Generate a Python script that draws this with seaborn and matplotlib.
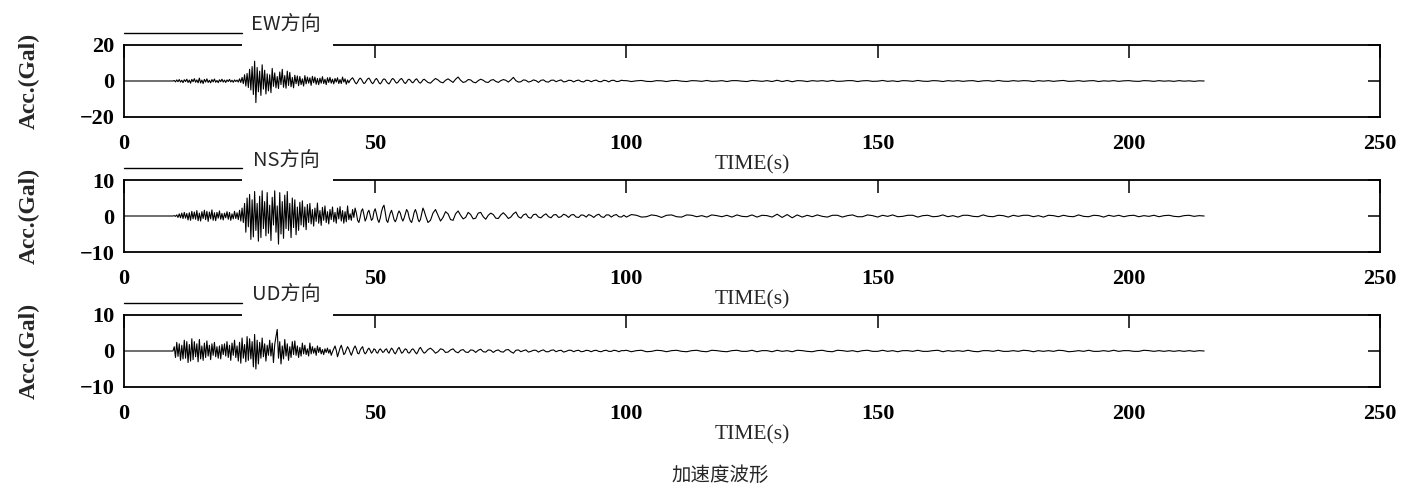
import numpy as np
import pandas as pd
import matplotlib
matplotlib.use("Agg")
import matplotlib.pyplot as plt
import seaborn as sns
from matplotlib.patches import Rectangle
from matplotlib.lines import Line2D

# ---------------- data ----------------
components = ["EW方向", "NS方向", "UD方向"]
y_limits = [20, 10, 10]
x_ticks = [0, 50, 100, 150, 200, 250]

# quiet part before onset (t = 0 ... 9.75 s)
quiet = [0.0, 0.0]

# EW: 10-60 s every 0.25 s
EW_A = [0.3,-0.5,0.6,-0.4, 0.8,-0.6,0.4,-0.9, 0.7,-0.3,1.0,-0.8, 0.5,-1.2,0.9,-0.4,
        1.3,-0.7,0.6,-1.0, 1.6,-1.1,0.5,-1.4, 0.9,-0.6,1.2,-0.8, 0.4,-1.0,0.8,-0.5,
        1.1,-0.7,0.3,-0.9, 0.7,-0.4,1.0,-0.6, 0.5,-0.8,0.6,-0.3, 0.9,-0.5,0.4,-0.7,
        0.6,-0.3,0.5,-0.6, 1.2,-0.8,2.0,-1.5, 3.5,-2.8,4.2,-3.6, 6.5,-5.0,8.0,-7.5,
        11.0,-12.0,7.5,-6.0, 5.5,-8.0,9.0,-4.5, 6.0,-7.2,4.0,-5.5, 3.5,-6.5,7.0,-3.0,
        4.5,-3.8,2.5,-4.2, 5.0,-2.0,6.5,-3.5, 3.0,-4.0,5.5,-2.5, 4.8,-3.2,2.0,-3.8,
        3.2,-1.5,2.8,-2.6, 2.5,-2.0,1.2,-2.8, 3.0,-1.6,2.2,-1.2, 1.8,-2.4,2.6,-1.0,
        2.2,-1.8,1.4,-2.0, 1.6,-1.2,2.4,-1.4, 1.0,-2.0,1.8,-0.8, 2.0,-1.2,1.0,-1.6,
        1.4,-0.6,1.8,-1.4, 0.8,-1.4,2.2,-0.6, 1.2,-1.8,0.6,-1.0, 0.4,1.2,1.8,0.6,
        -0.8,-1.6,-0.6,0.8, 1.6,1.0,-0.4,-1.4, -1.0,0.2,1.2,1.6, 0.6,-0.8,-1.5,-0.6,
        0.8,1.4,0.4,-1.0, -1.6,-0.8,0.6,1.2, 0.8,-0.4,-1.2,-1.6, -0.6,0.8,1.4,0.8,
        -0.4,-1.2,-0.8,0.2, 1.0,1.4,0.4,-0.8, -1.4,-0.6,0.6,1.0, 0.4,-0.6,-1.0,-0.2,
        0.8,1.2,0.2,-0.8, -1.2,-0.4,0.6,1.0]
# EW: 60-100 s every 0.5 s
EW_B = [0.4,-0.8,-1.2,0.2,1.4,0.6,-0.6,-1.0,0.4,1.2,
        0.2,-0.8,1.0,2.2,0.4,-0.8,-0.4,0.8,0.6,-0.6,
        -1.0,0.2,1.0,0.4,-0.6,-0.8,0.4,0.8,-0.2,-0.8,
        0.2,0.8,0.4,-0.6,0.6,2.0,0.2,-0.6,-0.4,0.6,
        0.4,-0.6,-0.2,0.6,0.2,-0.8,0.4,0.6,-0.4,-0.6,
        0.4,0.5,-0.4,0.2,0.6,-0.5,-0.3,0.4,0.3,-0.5,
        0.2,0.5,-0.3,-0.5,0.4,0.3,-0.4,0.2,0.5,-0.3,
        -0.4,0.4,0.2,-0.5,0.3,0.4,-0.3,-0.2,0.4,0.2]
# EW: 100-215 s every 1 s
EW_C = [0.2,-0.3,0.1,0.3,-0.2,-0.3,0.2,0.1,-0.3,0.2,
        0.3,-0.1,-0.3,0.2,0.1,-0.2,0.3,-0.2,-0.1,0.2,
        -0.3,0.2,0.2,-0.1,-0.3,0.3,0.1,-0.2,0.2,-0.3,
        0.4,-0.3,0.3,-0.4,0.2,0.1,-0.3,0.2,-0.1,0.2,
        -0.2,0.3,-0.2,-0.1,0.2,0.2,-0.3,0.1,0.2,-0.2,
        -0.1,0.3,-0.2,0.1,-0.3,0.2,0.1,-0.2,0.3,-0.1,
        -0.2,0.2,0.1,-0.3,0.2,-0.1,0.2,-0.2,0.1,0.2,
        -0.3,0.1,0.2,-0.2,0.3,-0.1,-0.2,0.2,-0.1,0.2,
        0.1,-0.3,0.2,-0.1,0.2,-0.2,0.1,0.3,-0.2,-0.1,
        0.2,-0.2,0.1,0.2,-0.3,0.1,-0.1,0.2,-0.2,0.1,
        0.2,-0.1,-0.2,0.2,0.1,-0.2,0.2,-0.1,0.1,-0.2,
        0.2,-0.1,0.1,-0.2,0.1,0.0]

NS_A = [0.1,-0.1,0.3,-0.4, 0.6,-0.5,0.8,-0.7, 1.0,-0.6,0.7,-1.1, 0.9,-1.2,1.3,-0.8,
        1.1,-0.9,1.5,-1.3, 0.8,-1.4,1.2,-0.7, 1.6,-1.0,1.3,-1.5, 1.1,-0.8,1.7,-1.2,
        0.9,-1.3,1.0,-0.6, 1.4,-0.9,0.7,-1.1, 0.8,-0.5,1.2,-0.9, 1.0,-1.2,0.6,-0.8,
        1.3,-0.7,0.9,-1.0, 1.6,-1.4,2.2,-1.8, 3.5,-4.5,5.0,-3.0, 6.0,-6.5,4.5,-5.8,
        6.8,-4.0,3.5,-7.0, 5.5,-6.0,7.0,-3.5, 4.0,-5.5,6.5,-4.8, 3.0,-6.8,5.2,-2.5,
        7.0,-4.5,2.8,-7.8, 6.5,-5.0,4.0,-6.2, 5.8,-3.5,6.8,-4.0, 3.5,-6.0,5.0,-3.2,
        4.5,-5.2,2.5,-4.0, 3.8,-2.5,4.2,-3.0, 2.5,-3.8,3.2,-1.8, 3.5,-2.2,1.8,-2.8,
        2.2,-1.5,3.6,-2.0, 1.5,-2.6,2.4,-1.2, 2.8,-1.8,1.2,-2.2, 1.8,-1.0,2.5,-1.6,
        1.0,-2.0,2.2,-0.8, 2.6,-1.4,1.5,-2.0, 1.2,-1.6,2.8,-1.0, 0.6,-1.2,1.8,-0.4,
        2.2,0.8,-1.2,-1.8, -0.4,1.4,2.0,0.4, -1.4,-0.6,1.0,1.6, 0.2,-1.2,-0.8,1.2,
        2.0,0.6,-1.0,-1.8, -0.6,1.2,2.4,3.0, 1.0,-1.2,-1.8,-0.4, 0.8,1.6,0.4,-1.0,
        -1.6,-0.8,0.6,1.4, 0.8,-0.6,-1.4,-0.6, 0.6,1.8,1.2,-0.4, -1.4,-1.8,-0.6,1.0,
        1.8,0.8,-0.8,-1.6, -1.0,0.6,2.2,1.4]
NS_B = [0.2,-1.8,-1.2,0.8,1.8,0.2,-1.4,-0.4,1.2,0.6,
        -1.0,-1.2,0.6,1.4,0.2,-0.8,-0.4,1.0,0.4,-0.8,
        -0.6,0.8,1.0,-0.2,-0.9,0.2,0.8,0.4,-0.6,-0.7,
        0.3,0.9,0.2,-0.7,-0.3,0.6,1.1,-0.2,-0.6,0.3,
        0.6,-0.4,-0.6,0.4,0.5,-0.3,-0.5,0.2,0.6,-0.2,
        -0.5,0.3,0.4,-0.4,-0.2,0.5,0.2,-0.4,0.3,0.4,
        -0.3,-0.4,0.3,0.2,-0.3,0.4,0.1,-0.4,0.2,0.5,
        -0.2,-0.4,0.3,0.3,-0.3,0.2,0.4,-0.2,-0.3,0.2]
NS_C = [-0.3,0.4,0.2,-0.3,-0.2,0.3,0.1,-0.4,0.2,0.3,
        -0.2,-0.3,0.3,0.2,-0.2,0.1,-0.3,0.3,0.1,-0.2,
        0.2,-0.3,0.3,-0.1,-0.2,0.3,-0.3,0.2,0.1,-0.3,
        0.5,-0.4,0.4,-0.5,0.3,-0.3,0.2,-0.2,0.3,-0.1,
        -0.3,0.2,0.2,-0.3,0.1,0.3,-0.2,-0.2,0.3,0.1,
        -0.3,0.2,-0.1,0.3,-0.2,-0.1,0.2,0.2,-0.3,0.1,
        0.2,-0.2,-0.1,0.3,-0.2,0.1,-0.3,0.2,0.2,-0.1,
        -0.2,0.3,-0.1,-0.2,0.2,0.1,-0.3,0.2,-0.1,0.2,
        0.2,-0.2,0.1,-0.3,0.2,0.1,-0.2,0.2,-0.1,-0.2,
        0.3,-0.1,-0.2,0.2,0.1,-0.3,0.2,-0.1,0.2,-0.2,
        0.1,0.2,-0.2,0.1,-0.1,0.2,-0.2,0.1,0.2,-0.1,
        -0.2,0.1,0.2,-0.1,0.1,0.0]

UD_A = [1.2,-1.8,2.4,-1.5, 2.0,-2.6,1.6,-2.2, 3.0,-2.0,2.6,-3.2, 1.8,-2.8,3.4,-2.4,
        2.6,-1.6,2.0,-3.0, 3.2,-2.2,1.4,-2.6, 2.2,-1.8,2.8,-1.4, 1.6,-2.4,2.0,-1.2,
        2.4,-1.6,1.2,-2.0, 1.4,-2.2,1.8,-1.0, 2.0,-1.4,2.6,-1.8, 1.6,-2.6,2.2,-1.2,
        3.0,-1.8,1.4,-2.8, 2.4,-3.4,3.6,-2.0, 1.8,-3.0,4.0,-2.6, 3.4,-2.2,2.6,-4.4,
        4.6,-5.0,3.0,-3.6, 2.4,-2.0,3.6,-1.6, 2.0,-2.8,1.6,-1.2, 3.0,-1.4,2.2,-3.2,
        1.8,4.0,6.0,-2.0, 2.6,-3.6,1.4,-2.2, 3.2,-1.4,2.0,-2.6, 1.2,-1.8,2.6,-1.0,
        2.8,-1.2,1.4,-1.8, 1.0,-1.4,2.2,-0.8, 1.6,-1.0,0.6,-1.4, 2.2,-0.8,1.2,-0.6,
        0.8,-1.2,1.4,-0.4, 1.0,-0.8,0.4,-1.0, 0.6,-0.4,0.8,-0.6, 0.4,-1.2,-0.2,0.6,
        1.4,0.2,-1.6,-0.4, 0.8,1.6,0.4,-1.0, -0.6,0.4,1.2,0.6, -0.4,-1.2,-0.2,0.8,
        1.4,0.6,-0.6,-0.8, 0.2,0.8,1.2,-0.2, -0.8,-0.4,0.4,0.8, 0.2,-0.6,-0.2,0.6,
        0.4,-0.4,-0.6,0.2, 0.6,0.2,-0.4,-0.2, 0.4,0.6,-0.2,-0.6, 0.2,0.8,0.4,-0.4,
        -0.8,-0.2,0.6,1.0, 0.2,-0.6,-0.4,0.2, 0.6,0.4,-0.4,-0.6, -0.2,0.4,0.6,0.2,
        -0.4,-0.8,-0.2,0.6, 1.0,0.4,-0.2,-0.6]
UD_B = [-0.4,0.4,0.8,0.2,-0.6,-0.2,0.6,0.4,-0.4,-0.3,
        0.3,0.6,-0.2,-0.5,0.2,0.4,-0.3,-0.4,0.3,0.2,
        -0.4,0.2,0.5,-0.2,-0.3,0.3,0.2,-0.4,0.1,0.3,
        -0.2,-0.3,0.3,0.4,-0.2,-0.6,0.2,0.3,-0.2,0.1,
        0.3,-0.3,-0.1,0.2,0.2,-0.3,0.1,0.3,-0.2,-0.2,
        0.2,0.3,-0.2,0.1,0.2,-0.3,-0.1,0.2,0.2,-0.2,
        0.1,0.2,-0.2,-0.1,0.2,0.1,-0.2,0.1,0.2,-0.1,
        -0.2,0.1,0.2,-0.1,-0.1,0.2,0.1,-0.2,0.1,0.1]
UD_C = [0.2,-0.2,0.1,0.2,-0.2,-0.1,0.2,0.1,-0.2,0.1,
        0.2,-0.1,-0.2,0.1,0.2,-0.1,-0.2,0.2,0.1,-0.1,
        -0.2,0.1,0.2,-0.1,-0.1,0.2,-0.2,0.1,0.1,-0.2,
        0.2,-0.1,0.1,-0.2,0.2,0.1,-0.1,-0.2,0.1,0.2,
        -0.1,-0.2,0.2,0.1,-0.1,0.1,-0.2,0.1,0.2,-0.1,
        -0.1,0.2,-0.1,0.1,-0.2,0.1,0.1,-0.1,0.2,-0.1,
        -0.1,0.1,0.2,-0.2,0.1,-0.1,0.1,-0.1,0.2,-0.1,
        -0.2,0.1,0.1,-0.1,0.2,-0.1,-0.1,0.1,-0.1,0.2,
        0.1,-0.2,0.1,-0.1,0.1,-0.1,0.2,0.1,-0.2,-0.1,
        0.1,-0.1,0.2,-0.1,-0.1,0.1,-0.1,0.2,-0.1,0.1,
        0.1,-0.1,-0.1,0.2,0.1,-0.1,0.1,-0.1,0.1,-0.1,
        0.1,-0.1,0.1,-0.1,0.1,0.0]

segments = {"EW方向": (EW_A, EW_B, EW_C),
            "NS方向": (NS_A, NS_B, NS_C),
            "UD方向": (UD_A, UD_B, UD_C)}


def build_frame(name, a, b, c):
    t = np.concatenate([[0.0, 9.75],
                        10.0 + 0.25 * np.arange(len(a)),
                        60.0 + 0.5 * np.arange(len(b)),
                        100.0 + 1.0 * np.arange(len(c))])
    v = np.concatenate([quiet, a, b, c])
    return pd.DataFrame({"t": t, "acc": v, "comp": name})


df = pd.concat([build_frame(n, *segments[n]) for n in components], ignore_index=True)

# ---------------- figure ----------------
sns.set_style("white")
plt.rcParams['font.family'] = ['Liberation Serif', 'DejaVu Serif']
plt.rcParams['axes.unicode_minus'] = True

W, H = 1402, 491
fig = plt.figure(figsize=(W / 100, H / 100), dpi=100)

left_px, right_px = 124, 1380
tops_px = [45, 180, 315]
ax_h_px = 72
cjk = ['Noto Sans CJK SC', 'DejaVu Sans']

for i, name in enumerate(components):
    top = tops_px[i]
    ax = fig.add_axes([left_px / W, 1 - (top + ax_h_px) / H,
                       (right_px - left_px) / W, ax_h_px / H])
    sub = df[df["comp"] == name]
    sns.lineplot(data=sub, x="t", y="acc", ax=ax, color="black", linewidth=0.8,
                 estimator=None, sort=False, legend=False)
    lim = y_limits[i]
    ax.set_xlim(0, 250)
    ax.set_ylim(-lim, lim)
    ax.set_xticks(x_ticks)
    ax.set_yticks([-lim, 0, lim])
    for s in ax.spines.values():
        s.set_visible(True)
        s.set_color("black")
        s.set_linewidth(1.3)
    ax.tick_params(axis="both", direction="in", length=9, width=1.1,
                   top=True, right=True, colors="black", labelsize=16)
    ax.tick_params(axis="x", pad=12)
    ax.tick_params(axis="y", pad=7)
    for lab in ax.get_xticklabels() + ax.get_yticklabels():
        lab.set_fontweight("bold")
    ax.set_xlabel("TIME(s)", fontsize=15.5, fontweight="normal")
    ax.xaxis.set_label_coords(0.5, -(48 / ax_h_px))
    ax.xaxis.label.set_va("center")
    ax.set_ylabel("Acc.(Gal)", fontsize=17, fontweight="bold")
    ax.yaxis.set_label_coords((29 - left_px) / (right_px - left_px), 0.5)
    ax.yaxis.label.set_va("center")

    # title decorations (line, title text, white gap in top spine)
    fig.add_artist(Line2D([left_px / W, 242 / W], [1 - (top - 12) / H] * 2,
                          color="black", linewidth=1.0, transform=fig.transFigure))
    fig.add_artist(Rectangle((242 / W, 1 - (top + 3) / H), (333 - 242) / W, 7 / H,
                             transform=fig.transFigure, facecolor="white",
                             edgecolor="none", zorder=5))
    fig.text(286 / W, 1 - (top - 20) / H, name, ha="center", va="center",
             fontsize=14.5, family=cjk, zorder=6)

fig.text(720 / W, 1 - 475 / H, "加速度波形", ha="center", va="center",
         fontsize=14, family=cjk)

fig.savefig("out.png", dpi=100)
